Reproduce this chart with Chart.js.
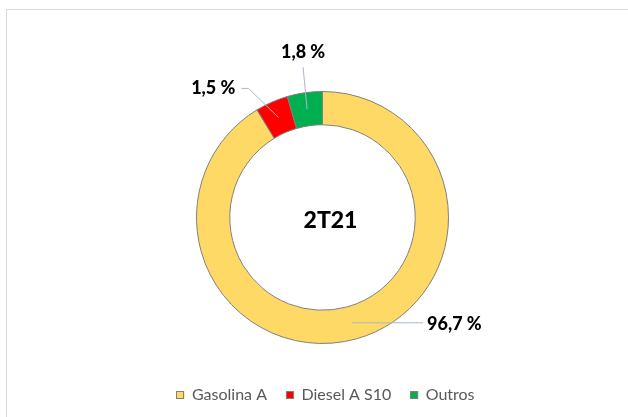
<!DOCTYPE html>
<html><head><meta charset="utf-8">
<script src="https://cdn.jsdelivr.net/npm/chart.js@4.4.1/dist/chart.umd.min.js"></script>
<style>
html,body{margin:0;padding:0;background:#fff;}
#wrap{position:relative;width:628px;height:417px;overflow:hidden;}
#frame{position:absolute;left:6px;top:9px;width:700px;height:500px;border:1px solid #d9d9d9;box-sizing:border-box;}
canvas{position:absolute;left:0;top:0;}
</style></head><body>
<div id="wrap"><div id="frame"></div><canvas id="c" width="628" height="417"></canvas></div>
<script>
// ---- data ----
const categories = ['Gasolina A', 'Diesel A S10', 'Outros'];
const sliceShares = [91.3, 4.2, 4.5];          // slice sizes as drawn in the picture
const valueLabels = ['96,7 %', '1,5 %', '1,8 %']; // data labels printed on the picture
const centerTitle = '2T21';
const sliceColors = ['#FFD966', '#FF0000', '#00B050'];

// leader line layout (relative to each slice's mid point)
const labelLayout = [
  { path: [[71, 0]], align: 'left', tx: 4, ty: 1 },
  { path: [[-30, -29], [-7, 0]], align: 'right', tx: -6, ty: 0 },
  { path: [[-4, -42]], align: 'center', tx: 0, ty: -15 }
];

const annot = {
  id: 'annot',
  afterDatasetsDraw(chart) {
    const ctx = chart.ctx;
    const meta = chart.getDatasetMeta(0);
    const cx = meta.data[0].x, cy = meta.data[0].y;
    ctx.save();
    ctx.textBaseline = 'middle';
    // center title
    ctx.font = '900 23px Lato';
    ctx.fillStyle = '#000';
    ctx.textAlign = 'center';
    ctx.fillText(centerTitle, cx + 8, cy + 3);
    // data labels with leader lines
    meta.data.forEach((arc, i) => {
      const p = arc.tooltipPosition();
      const L = labelLayout[i];
      ctx.strokeStyle = '#A9B7CA';
      ctx.lineWidth = 1;
      ctx.beginPath();
      ctx.moveTo(p.x, p.y);
      let x = p.x, y = p.y;
      L.path.forEach(([dx, dy]) => { x += dx; y += dy; ctx.lineTo(x, y); });
      ctx.stroke();
      ctx.font = '900 18px Lato';
      ctx.fillStyle = '#000';
      ctx.textAlign = L.align;
      ctx.fillText(valueLabels[i], x + L.tx, y + L.ty);
    });
    // legend
    ctx.font = '16px Lato';
    const box = 8, gapText = 7.5, gapItem = 19;
    const widths = categories.map(t => box + gapText + ctx.measureText(t).width);
    const total = widths.reduce((a, b) => a + b, 0) + gapItem * (categories.length - 1);
    let lx = cx + 3 - total / 2;
    const ly = 395;
    categories.forEach((t, i) => {
      ctx.fillStyle = sliceColors[i];
      ctx.fillRect(lx, ly - 4, box, box);
      ctx.strokeStyle = '#808080';
      ctx.strokeRect(Math.round(lx) + 0.5, ly - 4 + 0.5, box - 1, box - 1);
      ctx.fillStyle = '#595959';
      ctx.textAlign = 'left';
      ctx.fillText(t, lx + box + gapText, ly);
      lx += widths[i] + gapItem;
    });
    ctx.restore();
  }
};

new Chart(document.getElementById('c'), {
  type: 'doughnut',
  data: {
    labels: categories,
    datasets: [{
      data: sliceShares,
      backgroundColor: sliceColors,
      borderColor: '#808080',
      borderWidth: 1,
      hoverOffset: 0
    }]
  },
  options: {
    responsive: false,
    devicePixelRatio: 1,
    animation: false,
    radius: 126,
    cutout: '73.6%',
    layout: { padding: { left: 17, right: 0, top: 18, bottom: 0 } },
    plugins: { legend: { display: false }, tooltip: { enabled: false } }
  },
  plugins: [annot]
});
</script>
</body></html>
